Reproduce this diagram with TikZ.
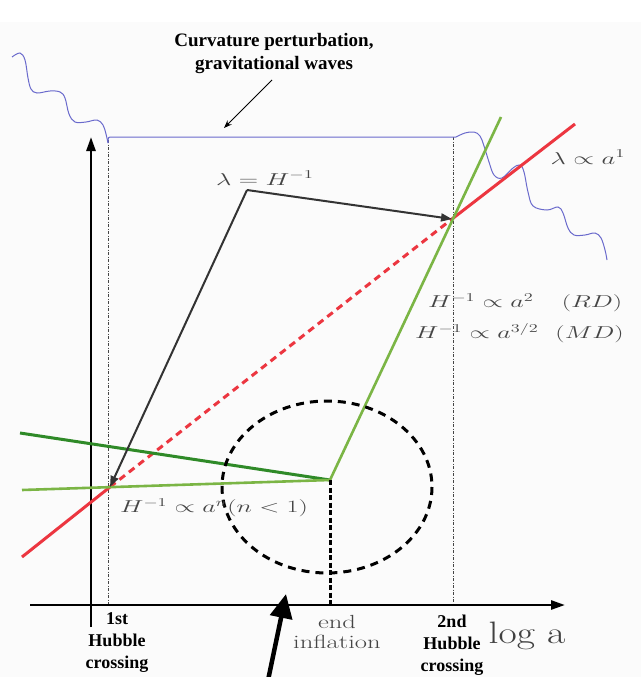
\documentclass[tikz,border=0pt]{standalone}
\usepackage{fontspec}
\usepackage{graphicx}
\newfontfamily\tnr{Liberation Serif}
\usetikzlibrary{arrows.meta}
\definecolor{redl}{HTML}{EC3640}
\definecolor{greenl}{HTML}{7BB545}
\definecolor{greend}{HTML}{2F8A28}
\definecolor{bluew}{HTML}{6A6ACC}
\definecolor{labgray}{HTML}{454545}
\definecolor{bggray}{HTML}{FBFBFB}
\newcommand{\hs}[2][1.55]{\scalebox{#1}[1]{#2}}
\tikzset{
  axis/.style={line width=2.6pt, black, -{Triangle[length=14pt,width=9pt]}},
  hubble/.style={line width=0.8pt, labgray, dash pattern=on 3pt off 1.5pt on 1pt off 1.5pt},
  wave/.style={line width=1pt, bluew},
  redline/.style={line width=3pt, redl},
  lam/.style={line width=2pt, black!80, -{Triangle[length=11pt,width=8pt]}},
  mathlab/.style={labgray, inner sep=0pt, font=\fontsize{18.5}{22}\selectfont},
  boldlab/.style={black, inner sep=0pt, align=center, font=\tnr\bfseries\fontsize{18}{22}\selectfont},
}
\begin{document}
\begin{tikzpicture}[x=1pt,y=-1pt]
\useasboundingbox (0,0) rectangle (641,677);
\fill[bggray] (0,22) rectangle (641,677);

% coordinates
\coordinate (yB) at (91,627);
\coordinate (yT) at (91,137);
\coordinate (xL) at (30,605);
\coordinate (xR) at (565,605);
\coordinate (h1T) at (108,140);
\coordinate (h1B) at (108,605);
\coordinate (h2T) at (453,137);
\coordinate (h2B) at (453,605);
\coordinate (wL) at (110,137);
\coordinate (wR) at (456,137);
\coordinate (rA) at (22,557);
\coordinate (rB) at (110,487);
\coordinate (rC) at (452,219);
\coordinate (rD) at (575,124);
\coordinate (gA) at (22,490);
\coordinate (gD) at (20,433);
\coordinate (gE) at (330,480);
\coordinate (gT) at (501,117);
\coordinate (gX) at (330,605);
\coordinate (lc) at (247,190);
\coordinate (ccen) at (327,487);
\coordinate (bigB) at (266,690);
\coordinate (bigT) at (286,594);
\coordinate (anS) at (272,80);
\coordinate (anE) at (224,128);

% hubble crossing lines
\draw[hubble] (h1T) -- (h1B);
\draw[hubble] (h2T) -- (h2B);

% axes
\draw[axis] (yB) -- (yT);
\draw[axis] (xL) -- (xR);

% blue waves
\draw[wave] plot[smooth, tension=0.6] coordinates {(12,57) (20,53) (25,60) (28,78) (31,89) (37,93) (50,91) (60,92) (65,98) (69,114) (75,122) (86,122) (97,120) (103,125) (106,134) (108,143)};
\draw[wave] (108,143) to[out=80,in=180] (wL) -- (wR);
\draw[wave] plot[smooth, tension=0.6] coordinates {(456,137) (465,133) (474,132) (480,136) (484,146) (489,162) (494,175) (502,178) (513,168) (520,165) (524,172) (528,192) (533,206) (547,210) (558,207) (563,213) (568,228) (574,235) (585,235) (595,233) (601,238) (605,250) (607,260)};

% red line
\draw[redline] (rA) -- (rB);
\draw[redline, dash pattern=on 7pt off 5pt] (rB) -- (rC);
\draw[redline] (rC) -- (rD);

% green lines
\draw[line width=3pt, greend] (gD) -- (gE);
\draw[line width=2.6pt, greenl] (gA) -- (gE) -- (gT);

% end inflation dashed
\draw[line width=3pt, black, dash pattern=on 5pt off 2.5pt] (gE) -- (gX);
\draw[line width=3pt, black, dash pattern=on 8pt off 6pt] (ccen) ellipse [x radius=105, y radius=86];

% lambda arrows
\draw[lam] (lc) -- (rC);
\draw[lam] (lc) -- (rB);

% annotation arrow
\draw[line width=1pt, black, -{Stealth[length=8pt,width=6pt]}] (anS) -- (anE);

% big arrow
\draw[line width=4.5pt, black, -{Triangle[length=24pt,width=22pt]}] (bigB) -- (bigT);

% labels
\node[boldlab, font=\tnr\bfseries\fontsize{19}{23}\selectfont] (ttl) at (274,54) {Curvature perturbation,\\gravitational waves};
\node[mathlab] (lamH) at (265,178) {\hs{$\lambda = H^{-1}$}};
\node[mathlab] (lama) at (588,157) {\hs{$\lambda \propto a^{1}$}};
\node[mathlab, anchor=west] (rd) at (428,303) {\hs[1.52]{$H^{-1}\propto a^{2}\quad (RD)$}};
\node[mathlab, anchor=west] (md) at (415,333) {\hs[1.52]{$H^{-1}\propto a^{3/2}\ \ (MD)$}};
\node[mathlab, anchor=west] (inf) at (120,508) {\hs[1.52]{$H^{-1}\propto a^{n} (n<1)$}};
\node[boldlab] (h1) at (117,643) {1st\\Hubble\\crossing};
\node[boldlab] (h2) at (452,645) {2nd\\Hubble\\crossing};
\node[labgray, inner sep=0pt, align=center, font=\fontsize{19}{20}\selectfont] (ei) at (337,632) {\hs[1.4]{end}\\\hs[1.4]{inflation}};
\node[black!75, inner sep=0pt, font=\fontsize{31}{32}\selectfont] (loga) at (527,636) {\hs[1.28]{log a}};
\end{tikzpicture}
\end{document}
